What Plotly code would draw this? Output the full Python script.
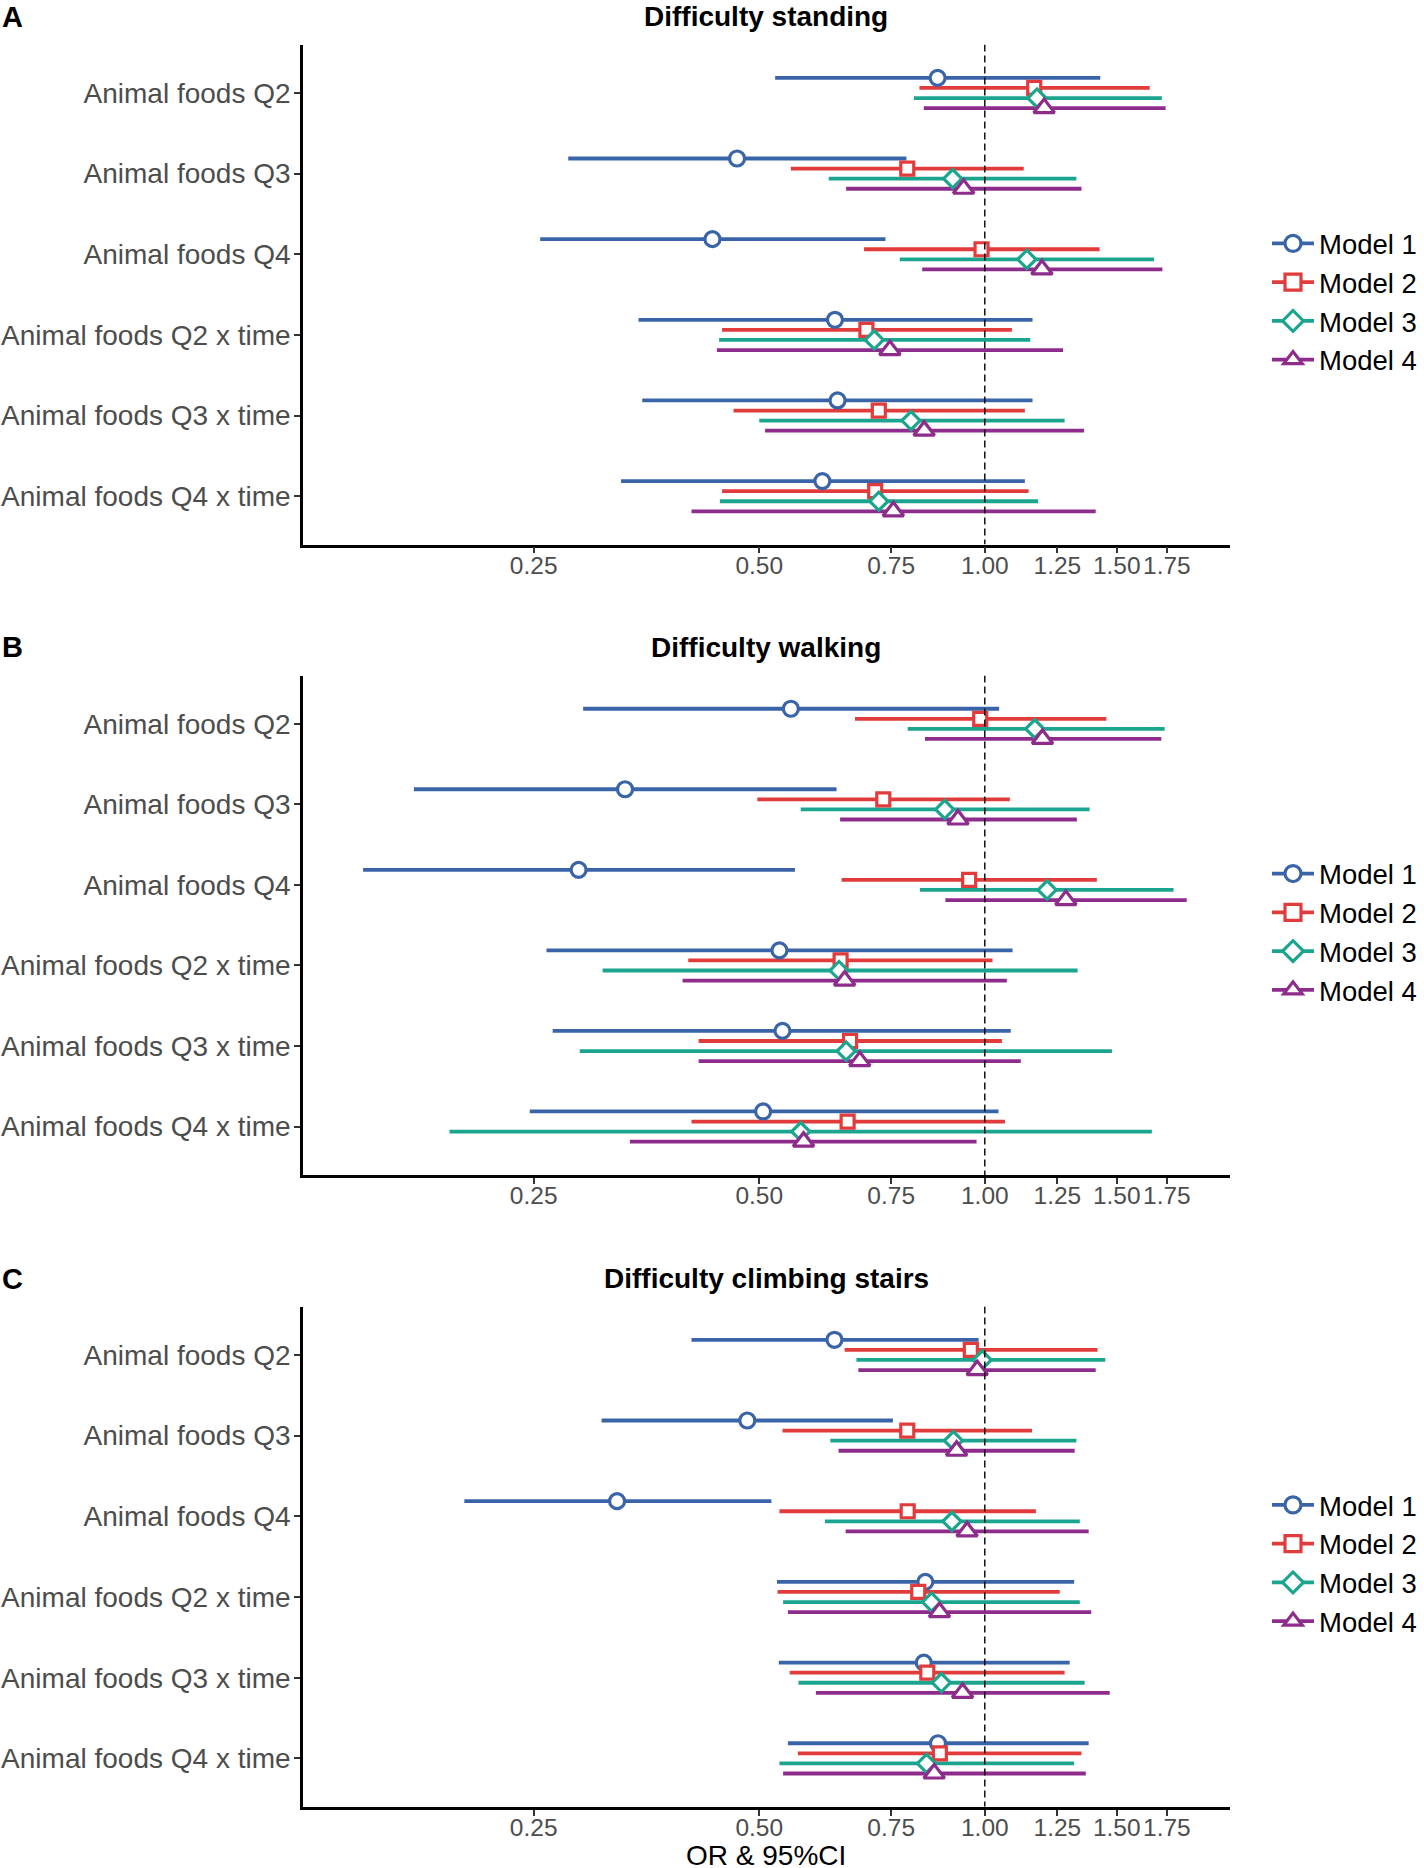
import plotly.graph_objects as go

categories = ["Animal foods Q2", "Animal foods Q3", "Animal foods Q4",
              "Animal foods Q2 x time", "Animal foods Q3 x time", "Animal foods Q4 x time"]
models = ["Model 1", "Model 2", "Model 3", "Model 4"]
panel_titles = ["Difficulty standing", "Difficulty walking", "Difficulty climbing stairs"]
panel_letters = ["A", "B", "C"]
x_tick_values = [0.25, 0.5, 0.75, 1.0, 1.25, 1.5, 1.75]
x_tick_labels = ["0.25", "0.50", "0.75", "1.00", "1.25", "1.50", "1.75"]

# rows: Model 1..4 ; columns: categories (Q2, Q3, Q4, Q2 x time, Q3 x time, Q4 x time)
standing_or = [
    [0.865, 0.467, 0.433, 0.631, 0.636, 0.607],
    [1.164, 0.788, 0.990, 0.695, 0.722, 0.714],
    [1.174, 0.906, 1.138, 0.712, 0.797, 0.722],
    [1.200, 0.937, 1.192, 0.747, 0.830, 0.755],
]
standing_lo = [
    [0.525, 0.278, 0.255, 0.345, 0.349, 0.327],
    [0.818, 0.551, 0.690, 0.446, 0.462, 0.446],
    [0.804, 0.619, 0.770, 0.442, 0.500, 0.443],
    [0.829, 0.653, 0.825, 0.439, 0.509, 0.406],
]
standing_hi = [
    [1.426, 0.786, 0.737, 1.158, 1.158, 1.131],
    [1.660, 1.127, 1.423, 1.087, 1.131, 1.144],
    [1.723, 1.325, 1.682, 1.150, 1.278, 1.178],
    [1.743, 1.346, 1.726, 1.272, 1.357, 1.406],
]
walking_or = [
    [0.551, 0.331, 0.287, 0.532, 0.537, 0.506],
    [0.986, 0.732, 0.953, 0.642, 0.661, 0.656],
    [1.166, 0.884, 1.211, 0.639, 0.653, 0.568],
    [1.194, 0.921, 1.283, 0.650, 0.681, 0.573],
]
walking_lo = [
    [0.291, 0.173, 0.148, 0.260, 0.265, 0.247],
    [0.671, 0.497, 0.644, 0.402, 0.415, 0.406],
    [0.789, 0.568, 0.819, 0.309, 0.288, 0.193],
    [0.832, 0.641, 0.886, 0.395, 0.415, 0.336],
]
walking_hi = [
    [1.045, 0.634, 0.558, 1.089, 1.083, 1.043],
    [1.453, 1.080, 1.411, 1.024, 1.054, 1.064],
    [1.738, 1.380, 1.786, 1.330, 1.478, 1.671],
    [1.720, 1.327, 1.860, 1.070, 1.117, 0.975],
]
stairs_or = [
    [0.630, 0.482, 0.323, 0.833, 0.829, 0.866],
    [0.958, 0.788, 0.789, 0.815, 0.838, 0.871],
    [0.992, 0.908, 0.904, 0.849, 0.875, 0.836],
    [0.977, 0.917, 0.947, 0.870, 0.934, 0.856],
]
stairs_lo = [
    [0.406, 0.308, 0.202, 0.528, 0.531, 0.546],
    [0.650, 0.537, 0.532, 0.529, 0.549, 0.563],
    [0.674, 0.622, 0.612, 0.538, 0.564, 0.532],
    [0.678, 0.638, 0.652, 0.546, 0.595, 0.538],
]
stairs_hi = [
    [0.981, 0.754, 0.519, 1.316, 1.298, 1.376],
    [1.414, 1.156, 1.170, 1.259, 1.278, 1.346],
    [1.448, 1.325, 1.339, 1.339, 1.359, 1.316],
    [1.406, 1.318, 1.376, 1.387, 1.468, 1.364],
]

# ---- styling ----
W, H = 1424, 1868
FONT = "Liberation Sans, Arial, Helvetica, sans-serif"
colors = ["#3A64A8", "#E23B3B", "#1CA58E", "#8E2C8C"]
symbols = ["circle", "square", "diamond", "triangle-up"]
msizes = [15, 13, 14, 18]
dodge = 0.5
offsets = [(j - 1.5) * dodge / 4 for j in range(4)]

x_dom = [302.9 / W, 1229.7 / W]
x_range_log = [-0.9101, 0.32685]
panel_px = [(44.6, 544.6), (675.5, 1174.9), (1306.5, 1806.8)]
title_px = [16.7, 647.0, 1278.6]
legend_px = [301.5, 931.7, 1563.0]

panels = [
    (standing_or, standing_lo, standing_hi),
    (walking_or, walking_lo, walking_hi),
    (stairs_or, stairs_lo, stairs_hi),
]

fig = go.Figure()
layout = dict(
    width=W, height=H, margin=dict(l=0, r=0, t=0, b=0),
    paper_bgcolor="white", plot_bgcolor="white",
    font=dict(family=FONT, color="black"),
    showlegend=True,
)
annotations = []

for p, (ors, los, his) in enumerate(panels):
    sfx = "" if p == 0 else str(p + 1)
    xa, ya = "x" + sfx, "y" + sfx
    leg = "legend" + sfx
    top, bot = panel_px[p]

    # confidence interval segments
    for j in range(4):
        xs, yy = [], []
        for i in range(len(categories)):
            yv = i + offsets[j]
            xs += [los[j][i], his[j][i], None]
            yy += [yv, yv, None]
        fig.add_trace(go.Scatter(
            x=xs, y=yy, mode="lines", xaxis=xa, yaxis=ya,
            line=dict(color=colors[j], width=3.8), showlegend=False, hoverinfo="skip"))
    # point estimates
    for j in range(4):
        fig.add_trace(go.Scatter(
            x=ors[j], y=[i + offsets[j] for i in range(len(categories))],
            mode="markers", xaxis=xa, yaxis=ya, name=models[j], showlegend=False,
            marker=dict(symbol=symbols[j], size=msizes[j], color="white",
                        line=dict(color=colors[j], width=3.2))))
    # legend entries
    for j in range(4):
        fig.add_trace(go.Scatter(
            x=[None], y=[None], mode="lines+markers", xaxis=xa, yaxis=ya,
            name=models[j], legend=leg,
            line=dict(color=colors[j], width=3.8),
            marker=dict(symbol=symbols[j], size=16, color="white",
                        line=dict(color=colors[j], width=3.2))))
    # reference line at OR = 1
    fig.add_trace(go.Scatter(
        x=[1, 1], y=[-0.6, len(categories) - 0.4], mode="lines", xaxis=xa, yaxis=ya,
        line=dict(color="black", width=1.4, dash="7px,4px"), showlegend=False, hoverinfo="skip"))

    layout["xaxis" + sfx] = dict(
        type="log", range=x_range_log, domain=x_dom, anchor=ya,
        showline=True, linecolor="black", linewidth=2.5,
        ticks="outside", ticklen=6, tickwidth=2, tickcolor="#333333",
        tickvals=x_tick_values, ticktext=x_tick_labels, tickangle=0,
        ticklabelstandoff=-9,
        tickfont=dict(family=FONT, size=24.5, color="#4D4D4D"),
        showgrid=False, zeroline=False)
    layout["yaxis" + sfx] = dict(
        range=[len(categories) - 0.4, -0.6], domain=[1 - bot / H, 1 - top / H], anchor=xa,
        showline=True, linecolor="black", linewidth=2.5,
        ticks="outside", ticklen=6, tickwidth=2, tickcolor="#333333",
        tickvals=list(range(len(categories))), ticktext=categories,
        ticklabelstandoff=-2,
        tickfont=dict(family=FONT, size=28, color="#4D4D4D"),
        showgrid=False, zeroline=False)
    layout[leg] = dict(
        x=1267 / W, xanchor="left", y=1 - legend_px[p] / H, yanchor="middle",
        font=dict(family=FONT, size=27.5, color="black"),
        bgcolor="rgba(0,0,0,0)", itemwidth=42, tracegroupgap=0)

    annotations.append(dict(
        text="<b>" + panel_titles[p] + "</b>", x=(x_dom[0] + x_dom[1]) / 2, y=1 - title_px[p] / H,
        xref="paper", yref="paper", xanchor="center", yanchor="middle", showarrow=False,
        font=dict(family=FONT, size=28, color="black")))
    annotations.append(dict(
        text="<b>" + panel_letters[p] + "</b>", x=0, y=1 - title_px[p] / H,
        xref="paper", yref="paper", xanchor="left", yanchor="middle", showarrow=False,
        font=dict(family=FONT, size=29, color="black")))

annotations.append(dict(
    text="OR & 95%CI", x=(x_dom[0] + x_dom[1]) / 2, y=1 - 1855 / H,
    xref="paper", yref="paper", xanchor="center", yanchor="middle", showarrow=False,
    font=dict(family=FONT, size=28, color="black")))

layout["annotations"] = annotations
fig.update_layout(**layout)
fig.write_html("out.html", config={"displayModeBar": False},
               post_script="document.body.style.margin='0px';")
